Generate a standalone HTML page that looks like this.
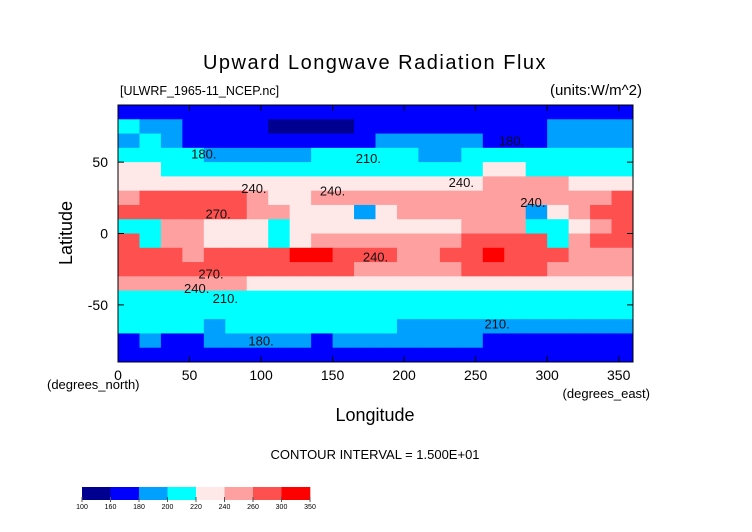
<!DOCTYPE html>
<html><head><meta charset="utf-8"><style>
body{margin:0;background:#fff;}
svg{display:block;font-family:"Liberation Sans",sans-serif;}
</style></head><body>
<svg id="c" width="752" height="532" viewBox="0 0 752 532">
<text x="375" y="69" font-size="20" text-anchor="middle" letter-spacing="1.5" fill="#000">Upward Longwave Radiation Flux</text>
<text x="120" y="95" font-size="12.5" fill="#000">[ULWRF_1965-11_NCEP.nc]</text>
<text x="642" y="95" font-size="15" text-anchor="end" fill="#000">(units:W/m^2)</text>
<g id="map"></g>
<g id="labels"></g>
<g id="axes"></g>
<text x="47" y="389" font-size="13" fill="#000">(degrees_north)</text>
<text x="650" y="398" font-size="13" text-anchor="end" fill="#000">(degrees_east)</text>
<text x="375" y="421" font-size="18" text-anchor="middle" fill="#000">Longitude</text>
<text x="0" y="0" font-size="18" text-anchor="middle" fill="#000" transform="translate(72,233) rotate(-90)">Latitude</text>
<text x="375" y="459" font-size="13" text-anchor="middle" fill="#000">CONTOUR INTERVAL = 1.500E+01</text>
<g id="cbar"></g>
</svg>
<script>
const lonEdges=[0,15,30,45,60,75,90,105,120,135,150,165,180,195,210,225,240,255,270,285,300,315,330,345,360];
const latCenters=[85,75,65,55,45,35,25,15,5,-5,-15,-25,-35,-45,-55,-65,-75,-85];
const r85=[170,170,170,170,170,170,170,170,170,170,170,170,170,170,170,170,170,170,170,170,170,170,170,170];
const r75=[205,195,190,170,170,170,170,155,155,150,155,170,170,170,170,175,175,170,175,175,190,190,195,190];
const r65=[195,200,190,175,175,175,175,175,175,170,175,175,190,190,195,190,185,175,175,175,195,190,195,195];
const r55=[205,205,205,200,190,190,190,195,190,205,210,210,210,205,195,195,200,200,205,210,210,205,210,210];
const r45=[228,225,215,215,210,215,215,215,215,215,215,215,215,215,215,215,215,220,220,215,215,215,215,215];
const r35=[232,232,232,232,220,225,228,232,232,232,232,232,232,232,235,235,235,245,245,245,240,235,235,235];
const r25=[250,270,270,265,270,270,250,235,235,245,250,245,240,245,248,245,245,255,258,250,250,250,258,265];
const r15=[270,270,270,270,270,268,250,240,230,230,230,195,232,245,245,245,245,250,245,195,230,240,265,270];
const r5=[200,200,245,245,235,232,232,210,235,232,232,232,230,230,230,232,240,250,245,205,205,225,255,265];
const r_5=[265,200,250,250,235,232,232,210,235,245,245,245,245,250,250,250,280,285,280,270,210,240,270,270];
const r_15=[270,270,270,250,270,270,270,270,300,300,270,265,260,250,250,270,285,305,285,270,265,250,250,250];
const r_25=[268,268,268,268,268,268,268,268,268,268,260,250,250,245,245,245,265,270,268,265,250,245,245,245];
const r_35=[245,245,245,245,240,240,235,235,235,235,235,235,235,235,235,235,235,235,235,235,230,230,230,230];
const r_45=[215,215,212,210,210,210,210,215,215,215,215,215,215,212,210,210,210,210,210,210,212,210,210,210];
const r_55=[210,205,205,210,210,205,205,205,210,210,210,210,210,205,205,205,205,205,205,205,205,205,205,205];
const r_65=[205,205,200,205,195,205,205,200,200,205,205,205,200,195,190,190,195,195,190,195,195,190,195,195];
const r_75=[175,185,175,175,190,190,185,185,180,175,190,195,195,185,180,190,185,175,175,175,175,175,175,170];
const r_85=[170,170,170,170,170,170,170,170,170,170,170,170,170,170,170,170,170,170,170,170,170,170,170,170];
const rows=[r85,r75,r65,r55,r45,r35,r25,r15,r5,r_5,r_15,r_25,r_35,r_45,r_55,r_65,r_75,r_85];
const levels=[100,160,180,200,220,240,260,300,350];
const colors=["#000090","#0000ff","#00a0ff","#00ffff","#ffe8e8","#ffa0a0","#ff5050","#ff0000"];
const xTicks=[0,50,100,150,200,250,300,350];
const yTicks=[50,0,-50];
const labelText=["180.","240.","270.","240.","270.","240.","210.","180.","180.","210.","240.","240.","240.","210."];
const labelLon=[60,95,70,150,65,55,75,100,275,175,240,290,180,265];
const labelLat=[56,32,14,30,-28,-38,-45,-75,65,53,36,22,-16,-63];
const X0=118,X1=633,Y0=105,Y1=362;
const NS="http://www.w3.org/2000/svg";
function xs(lon){return X0+(lon/360)*(X1-X0);}
function ys(lat){return Y0+((90-lat)/180)*(Y1-Y0);}
function col(v){for(let i=levels.length-2;i>=0;i--){if(v>=levels[i])return colors[i];}return colors[0];}
function mk(t,a,p){const e=document.createElementNS(NS,t);for(const k in a)e.setAttribute(k,a[k]);p.appendChild(e);return e;}
const map=document.getElementById('map');
rows.forEach((row,ri)=>{
  const lat=latCenters[ri];
  row.forEach((v,ci)=>{
    const x=xs(lonEdges[ci]),x2=xs(lonEdges[ci+1]);
    const y=ys(lat+5),y2=ys(lat-5);
    const r=mk('rect',{x:x,y:y,width:x2-x+0.5,height:y2-y+0.5,fill:col(v)},map);
    
    
  });
});
const lg=document.getElementById('labels');
labelText.forEach((t,i)=>{
  const tx=mk('text',{x:xs(labelLon[i]),y:ys(labelLat[i])+5,'font-size':13,'text-anchor':'middle',fill:'#111'},lg);
  tx.textContent=t;
  
  
});
const ax=document.getElementById('axes');
const fr=mk('rect',{x:X0,y:Y0,width:X1-X0,height:Y1-Y0,fill:'none',stroke:'#000','stroke-width':1},ax);


xTicks.forEach(t=>{
  const x=xs(t);
  mk('line',{x1:x,y1:Y1,x2:x,y2:Y1-6,stroke:'#000'},ax);
  mk('line',{x1:x,y1:Y0,x2:x,y2:Y0+6,stroke:'#000'},ax);
  const tx=mk('text',{x:x,y:Y1+18,'font-size':14,'text-anchor':'middle'},ax);
  tx.textContent=t;
  
  
});
yTicks.forEach(t=>{
  const y=ys(t);
  mk('line',{x1:X0,y1:y,x2:X0+6,y2:y,stroke:'#000'},ax);
  mk('line',{x1:X1,y1:y,x2:X1-6,y2:y,stroke:'#000'},ax);
  const tx=mk('text',{x:X0-10,y:y+5,'font-size':14,'text-anchor':'end'},ax);
  tx.textContent=t;
  
  
});
const cb=document.getElementById('cbar');
const CB0=82,CB1=310,CBY=487,CBH=13;
const w=(CB1-CB0)/colors.length;
colors.forEach((c,i)=>{
  const r=mk('rect',{x:CB0+i*w,y:CBY,width:w+0.3,height:CBH,fill:c},cb);
  
  
});
levels.forEach((l,i)=>{
  const x=CB0+i*w;
  mk('line',{x1:x,y1:CBY+CBH-3,x2:x,y2:CBY+CBH+2,stroke:'#555'},cb);
  const tx=mk('text',{x:x,y:CBY+CBH+9,'font-size':7,'text-anchor':'middle'},cb);
  tx.textContent=l;
  
  
});
</script>
</body></html>
